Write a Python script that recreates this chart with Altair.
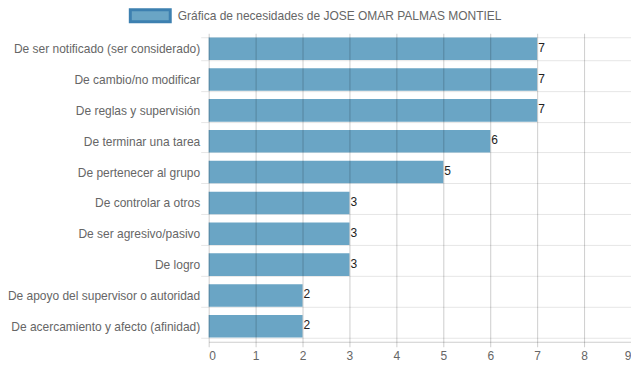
import altair as alt
import pandas as pd

categories = [
    "De ser notificado (ser considerado)",
    "De cambio/no modificar",
    "De reglas y supervisión",
    "De terminar una tarea",
    "De pertenecer al grupo",
    "De controlar a otros",
    "De ser agresivo/pasivo",
    "De logro",
    "De apoyo del supervisor o autoridad",
    "De acercamiento y afecto (afinidad)",
]
values = [7, 7, 7, 6, 5, 3, 3, 3, 2, 2]
series_name = "Gráfica de necesidades de JOSE OMAR PALMAS MONTIEL"

df = pd.DataFrame({"cat": categories, "val": values, "serie": [series_name] * len(values)})

FONT = "Liberation Sans"

y_enc = alt.Y(
    "cat:N",
    sort=categories,
    title=None,
    scale=alt.Scale(paddingInner=0.27, paddingOuter=0.135),
    axis=alt.Axis(
        tickBand="extent",
        grid=True,
        gridColor="#e6e6e6",
        tickColor="#e6e6e6",
        tickSize=8,
        labelPadding=1,
        labelLimit=0,
        domain=False,
        labelColor="#666666",
        labelFont=FONT,
        labelFontSize=12,
    ),
)

x_scale = alt.Scale(domain=[0, 9], nice=False)

bars = alt.Chart(df).mark_bar().encode(
    x=alt.X(
        "val:Q",
        scale=x_scale,
        title=None,
        axis=alt.Axis(
            values=list(range(10)),
            grid=True,
            gridColor="rgba(0,0,0,0.2)",
            tickColor="rgba(0,0,0,0.2)",
            domainColor="rgba(0,0,0,0.2)",
            tickSize=5,
            labelPadding=4,
            labelColor="#666666",
            labelFont=FONT,
            labelFontSize=12,
            zindex=1,
        ),
    ),
    y=y_enc,
    color=alt.Color(
        "serie:N",
        scale=alt.Scale(range=["#6aa5c5"]),
        legend=alt.Legend(
            title=None,
            orient="none",
            legendX=-80,
            legendY=-39,
            symbolType="M-1,-0.3H1V0.3H-1Z",
            symbolSize=1600,
            symbolStrokeColor="#3d80b0",
            symbolStrokeWidth=3,
            symbolOpacity=1,
            labelColor="#666666",
            labelFont=FONT,
            labelFontSize=12,
            labelOffset=6,
            labelLimit=0,
        ),
    ),
)

labels = alt.Chart(df).mark_text(
    align="left", baseline="middle", dx=1, dy=-1, fontSize=12, font=FONT, color="#222222"
).encode(
    x=alt.X("val:Q", scale=x_scale),
    y=alt.Y("cat:N", sort=categories),
    text="val:Q",
)

chart = (
    alt.layer(bars, labels)
    .properties(
        width=423,
        height=309,
        autosize=alt.AutoSizeParams(type="none"),
        padding={"left": 201, "top": 25, "right": 0, "bottom": 25},
    )
    .configure_view(stroke=None)
)

chart.save("out.html", embed_options={"renderer": "svg", "actions": False})
